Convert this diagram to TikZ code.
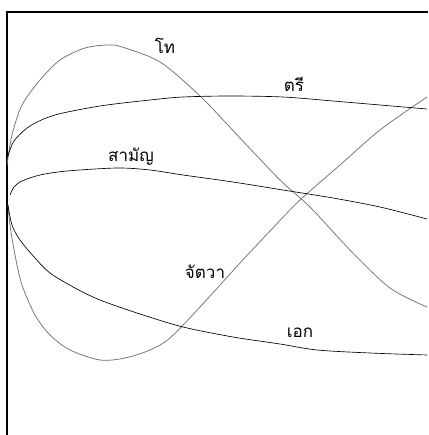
\documentclass[tikz,border=0pt]{standalone}
\usepackage{fontspec}
\usepackage{tikz}
\usepackage{xcolor}
\newfontfamily\thaifont[Script=Thai]{Loma}
\tikzset{
  tonelabel/.style={inner sep=0pt,font=\thaifont\fontsize{17}{17}\selectfont},
  darkcurve/.style={black,line width=0.65pt},
  lightcurve/.style={black!55,line width=0.75pt}
}

\begin{document}
\begin{tikzpicture}[x=1pt,y=-1pt]
\useasboundingbox (0,0) rectangle (428,435);
\fill[white] (0,0) rectangle (428,435);
\draw[line width=1.6pt] (7,435) -- (7,12) -- (428,12);
% high falling and rising tones
\draw[lightcurve] plot[smooth] coordinates {(7,165) (12,135) (22,105) (40,80) (60,60) (85,48) (108,45) (122,47) (160,62) (200,96) (240,138) (280,180) (310,207) (350,250) (390,288) (427,307)};
\draw[lightcurve] plot[smooth] coordinates {(8,205) (10,225) (15,255) (22,285) (35,315) (50,335) (70,350) (100,360) (125,358) (150,350) (170,338) (200,307) (240,263) (270,231) (300,200) (340,165) (380,130) (427,97)};
% level tones
\draw[darkcurve] plot[smooth] coordinates {(8,156) (14,141) (30,126) (55,115) (100,106) (150,100) (183,97) (230,96) (283,97) (333,101) (380,105) (427,109)};
\draw[darkcurve] plot[smooth] coordinates {(10,195) (14,187) (22,181) (40,175) (67,171) (117,168) (150,170) (183,175) (233,182) (283,190) (333,198) (380,207) (427,219)};
\draw[darkcurve] plot[smooth] coordinates {(8,205) (12,225) (20,240) (35,258) (50,273) (75,288) (100,300) (140,314) (183,327) (233,337) (280,344) (317,350) (370,353) (427,355)};
\node[tonelabel] (tho) at (165,46) {โท};
\node[tonelabel] (tri) at (294,84) {ตรี};
\node[tonelabel] (saman) at (131,157) {สามัญ};
\node[tonelabel] (chattawa) at (205,272) {จัตวา};
\node[tonelabel] (ek) at (300,333) {เอก};
\end{tikzpicture}
\end{document}
